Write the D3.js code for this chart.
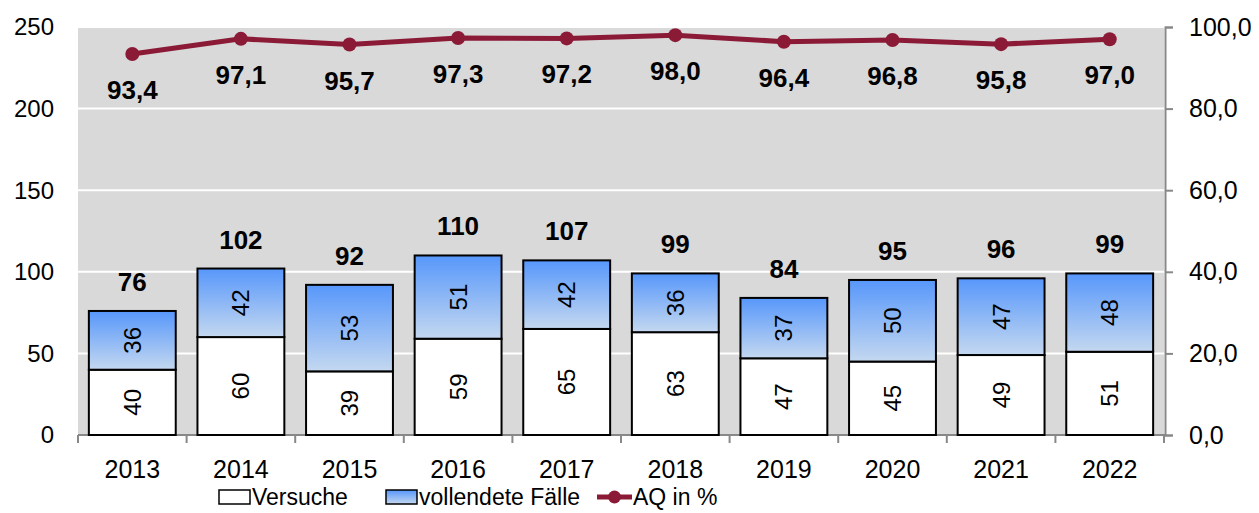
<!DOCTYPE html>
<html>
<head>
<meta charset="utf-8">
<script src="https://cdn.jsdelivr.net/npm/d3@7"></script>
<style>
  body { margin: 0; background: #fff; }
  svg { font-family: "Liberation Sans", Arial, sans-serif; }
</style>
</head>
<body>
<svg id="chart" width="1259" height="513"></svg>
<script>
const years = ["2013", "2014", "2015", "2016", "2017", "2018", "2019", "2020", "2021", "2022"];
const versuche = [40, 60, 39, 59, 65, 63, 47, 45, 49, 51];
const vollendet = [36, 42, 53, 51, 42, 36, 37, 50, 47, 48];
const aq = [93.4, 97.1, 95.7, 97.3, 97.2, 98.0, 96.4, 96.8, 95.8, 97.0];
const leftTicks = [0, 50, 100, 150, 200, 250];
const rightTicks = [0, 20, 40, 60, 80, 100];

const margin = { left: 78, right: 95, top: 27, bottom: 78 };
const size = { width: 1259, height: 513 };
const svg = d3.select("#chart");

const x = d3.scaleBand().domain(years)
  .range([margin.left, size.width - margin.right]).paddingInner(0.2).paddingOuter(0.1);
const band = d3.scaleBand().domain(years).range([margin.left, size.width - margin.right]);
const y = d3.scaleLinear().domain([0, 250]).range([size.height - margin.bottom, margin.top]);
const y2 = d3.scaleLinear().domain([0, 100]).range([size.height - margin.bottom, margin.top]);
const fmt = d => d.toFixed(1).replace(".", ",");

// gradient for vollendete Fälle
const grad = svg.append("defs").append("linearGradient")
  .attr("id", "blueGrad").attr("x1", 0).attr("y1", 0).attr("x2", 0).attr("y2", 1);
grad.append("stop").attr("offset", "0%").attr("stop-color", "#5797FB");
grad.append("stop").attr("offset", "100%").attr("stop-color", "#C4D8F0");

// plot background
svg.append("rect")
  .attr("x", margin.left).attr("y", margin.top)
  .attr("width", size.width - margin.right - margin.left)
  .attr("height", y(0) - margin.top)
  .attr("fill", "#D9D9D9");

// grid lines
svg.append("g").selectAll("line")
  .data(leftTicks.slice(1))
  .enter().append("line")
  .attr("x1", margin.left).attr("x2", size.width - margin.right)
  .attr("y1", d => y(d)).attr("y2", d => y(d))
  .attr("stroke", "#fff").attr("stroke-width", 2);

// left axis labels
svg.append("g").selectAll("text")
  .data(leftTicks)
  .enter().append("text")
  .attr("x", 54).attr("y", d => y(d))
  .attr("dy", "0.35em").attr("text-anchor", "end")
  .attr("font-size", 24).attr("fill", "#000")
  .text(d => d);

// right axis
const rAxis = svg.append("g")
  .attr("transform", `translate(${size.width - margin.right + 1},0)`)
  .call(d3.axisRight(y2).tickValues(rightTicks).tickFormat(fmt).tickSizeOuter(0).tickSize(8).tickPadding(16));
rAxis.select(".domain").attr("stroke", "#888").attr("stroke-width", 2);
rAxis.selectAll(".tick line").attr("stroke", "#888").attr("stroke-width", 2);
rAxis.selectAll("text").attr("font-size", 25).attr("fill", "#000").attr("font-family", "Liberation Sans, Arial, sans-serif");

// bottom axis
const bAxis = svg.append("g")
  .attr("transform", `translate(0,${y(0)})`);
bAxis.append("line")
  .attr("x1", margin.left).attr("x2", size.width - margin.right + 1)
  .attr("stroke", "#888").attr("stroke-width", 2);
bAxis.selectAll(".tk")
  .data(years.concat(["end"]))
  .enter().append("line")
  .attr("x1", (d, i) => i < years.length ? band(d) : band(years[years.length - 1]) + band.bandwidth())
  .attr("x2", (d, i) => i < years.length ? band(d) : band(years[years.length - 1]) + band.bandwidth())
  .attr("y1", 0).attr("y2", 8)
  .attr("stroke", "#888").attr("stroke-width", 2);
bAxis.selectAll("text")
  .data(years)
  .enter().append("text")
  .attr("x", d => band(d) + band.bandwidth() / 2)
  .attr("y", 43)
  .attr("text-anchor", "middle").attr("font-size", 25)
  .text(d => d);

// stacked bars
const bars = svg.append("g");
bars.selectAll(".vs")
  .data(years)
  .enter().append("rect")
  .attr("x", d => x(d)).attr("width", x.bandwidth())
  .attr("y", (d, i) => y(versuche[i]))
  .attr("height", (d, i) => y(0) - y(versuche[i]))
  .attr("fill", "#fff").attr("stroke", "#000").attr("stroke-width", 2);
bars.selectAll(".vf")
  .data(years)
  .enter().append("rect")
  .attr("x", d => x(d)).attr("width", x.bandwidth())
  .attr("y", (d, i) => y(versuche[i] + vollendet[i]))
  .attr("height", (d, i) => y(versuche[i]) - y(versuche[i] + vollendet[i]))
  .attr("fill", "url(#blueGrad)").attr("stroke", "#000").attr("stroke-width", 2);

// inner labels (rotated)
const inner = svg.append("g");
years.forEach((d, i) => {
  const cx = x(d) + x.bandwidth() / 2;
  [[0, versuche[i]], [versuche[i], versuche[i] + vollendet[i]]].forEach(([a, b]) => {
    const cy = (y(a) + y(b)) / 2;
    inner.append("text")
      .attr("transform", `translate(${cx},${cy}) rotate(-90)`)
      .attr("text-anchor", "middle").attr("dy", "0.35em")
      .attr("font-size", 24)
      .text(b - a);
  });
});

// totals
svg.append("g").selectAll("text")
  .data(years)
  .enter().append("text")
  .attr("x", d => x(d) + x.bandwidth() / 2)
  .attr("y", (d, i) => y(versuche[i] + vollendet[i]) - 20)
  .attr("text-anchor", "middle").attr("font-size", 26).attr("font-weight", "bold")
  .text((d, i) => versuche[i] + vollendet[i]);

// AQ line
const lineColor = "#8B1A37";
const line = d3.line()
  .x((d, i) => band(years[i]) + band.bandwidth() / 2)
  .y(d => y2(d));
svg.append("path")
  .datum(aq)
  .attr("d", line)
  .attr("fill", "none").attr("stroke", lineColor).attr("stroke-width", 5);
svg.append("g").selectAll("circle")
  .data(aq)
  .enter().append("circle")
  .attr("cx", (d, i) => band(years[i]) + band.bandwidth() / 2)
  .attr("cy", d => y2(d))
  .attr("r", 7).attr("fill", lineColor);
svg.append("g").selectAll("text")
  .data(aq)
  .enter().append("text")
  .attr("x", (d, i) => band(years[i]) + band.bandwidth() / 2)
  .attr("y", d => y2(d) + 45)
  .attr("text-anchor", "middle").attr("font-size", 26).attr("font-weight", "bold")
  .text(d => fmt(d));

// legend
const lg = svg.append("g").attr("font-size", 23);
const ly = 497;
lg.append("rect").attr("x", 219).attr("y", ly - 7).attr("width", 31).attr("height", 14)
  .attr("fill", "#fff").attr("stroke", "#000").attr("stroke-width", 1.5);
lg.append("text").attr("x", 252).attr("y", ly).attr("dy", "0.35em").text("Versuche");
lg.append("rect").attr("x", 386).attr("y", ly - 7).attr("width", 31).attr("height", 14)
  .attr("fill", "url(#blueGrad)").attr("stroke", "#000").attr("stroke-width", 1.5);
lg.append("text").attr("x", 419).attr("y", ly).attr("dy", "0.35em").text("vollendete Fälle");
lg.append("line").attr("x1", 597).attr("x2", 632).attr("y1", ly).attr("y2", ly)
  .attr("stroke", lineColor).attr("stroke-width", 5);
lg.append("circle").attr("cx", 614.5).attr("cy", ly).attr("r", 6.5).attr("fill", lineColor);
lg.append("text").attr("x", 633).attr("y", ly).attr("dy", "0.35em").text("AQ in %");
</script>
</body>
</html>
